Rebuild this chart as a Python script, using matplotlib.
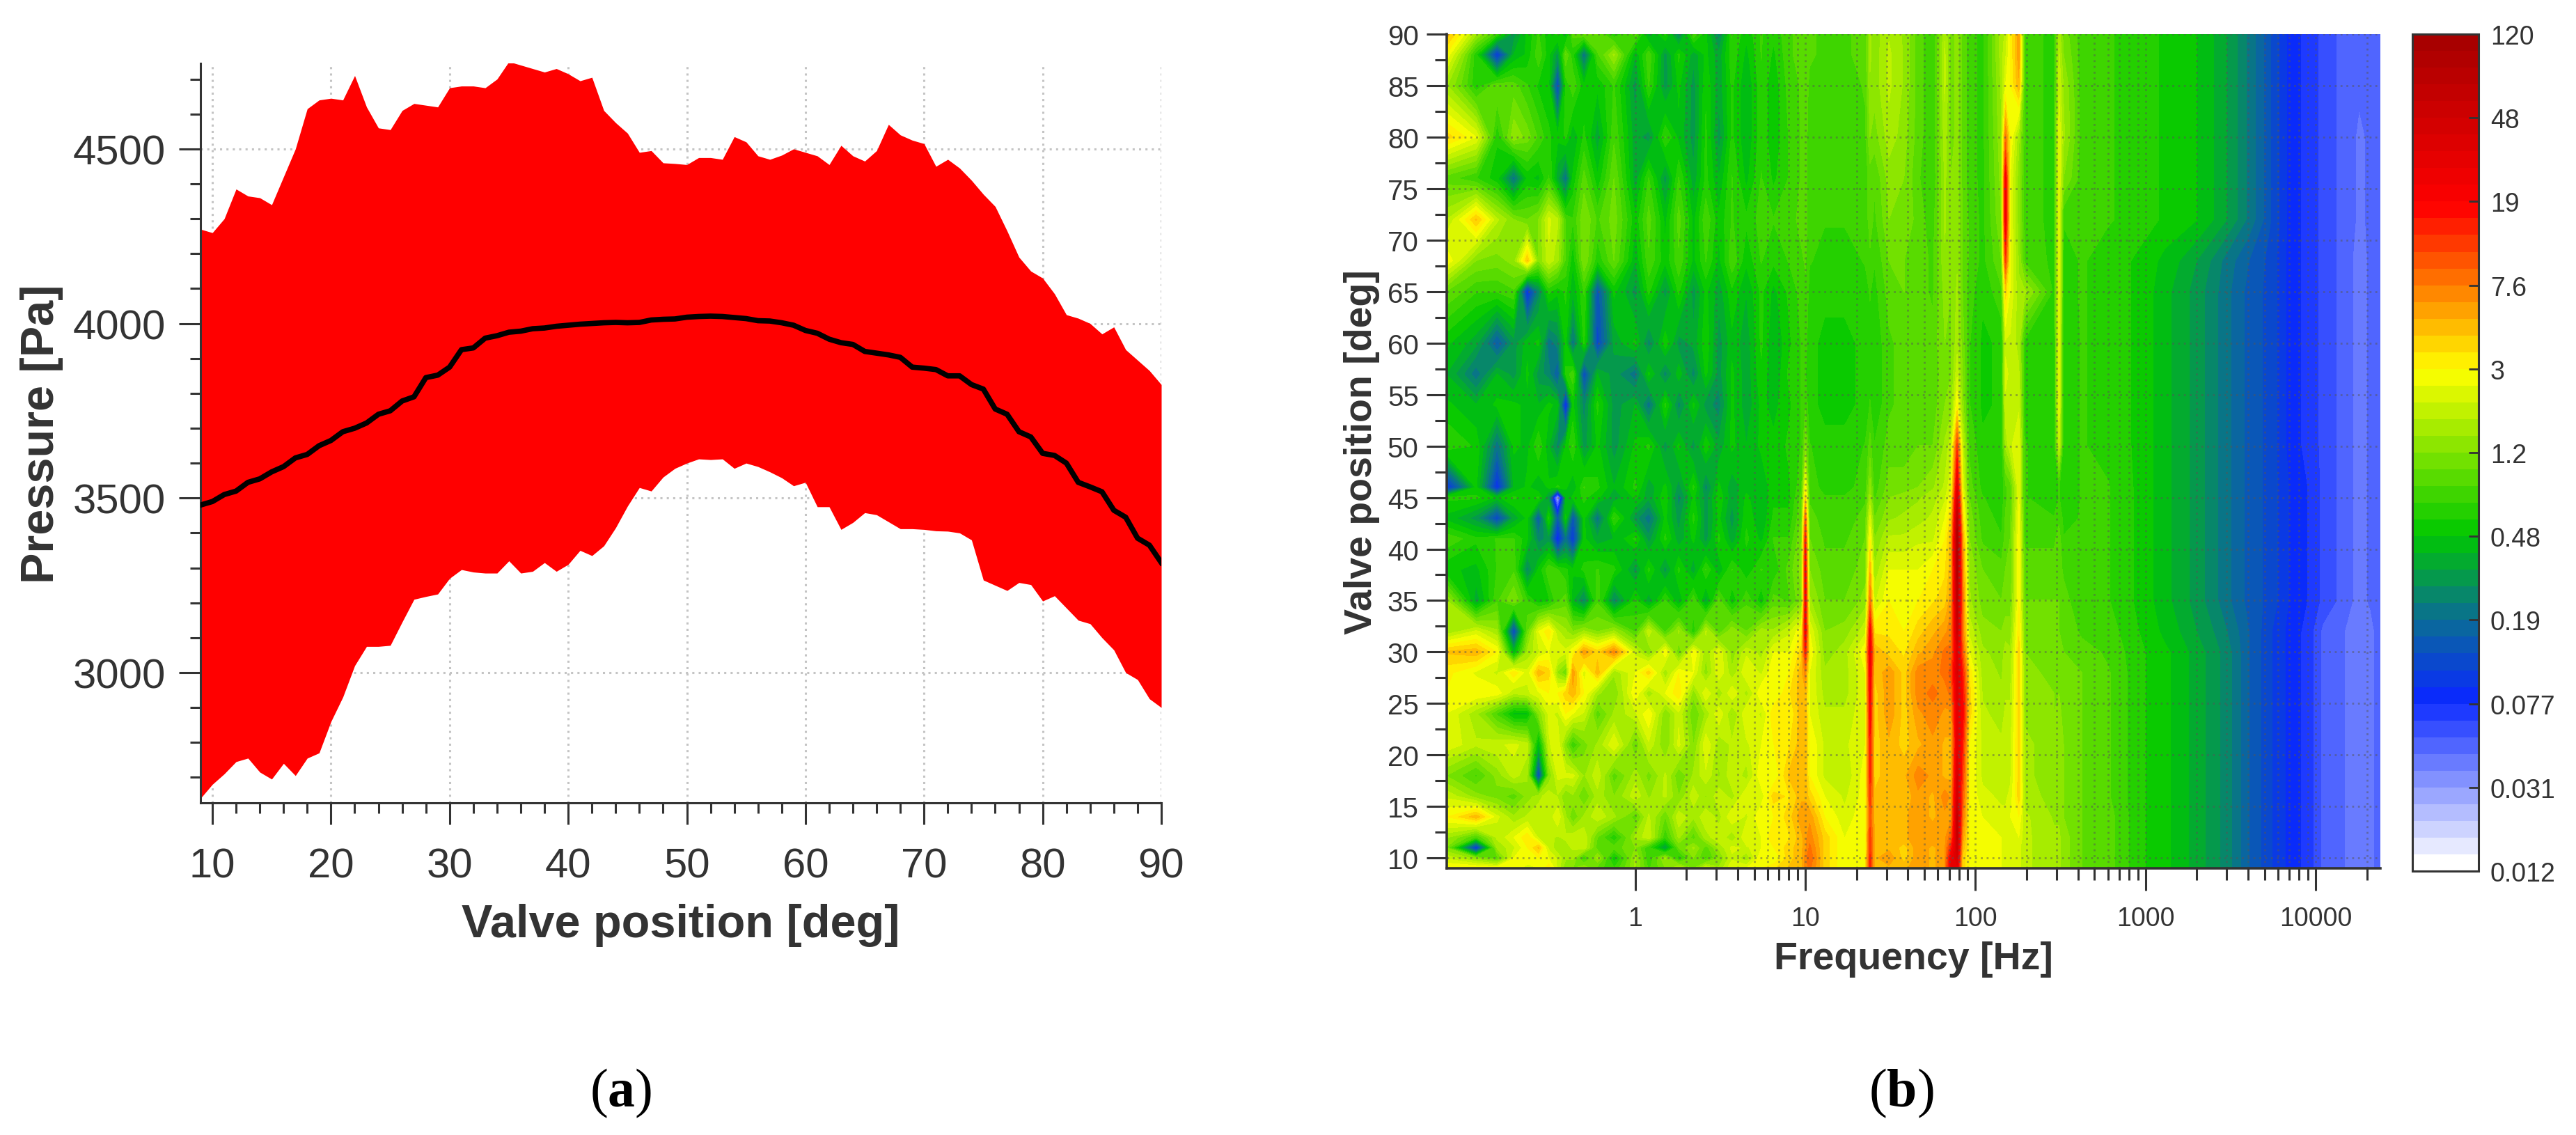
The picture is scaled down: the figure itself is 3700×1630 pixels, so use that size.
import numpy as np
import matplotlib
matplotlib.use('Agg')
from matplotlib import pyplot as plt
from matplotlib.colors import LinearSegmentedColormap

plt.rcParams['font.family'] = ['Liberation Sans', 'DejaVu Sans']
plt.rcParams['mathtext.fontset'] = 'custom'
plt.rcParams['mathtext.bf'] = 'Liberation Serif:bold'

# panel (a)
valve_deg = list(range(9, 91))
pressure_upper = [4270, 4260, 4300, 4385, 4365, 4360, 4340, 4420, 4500, 4615, 4640, 4645, 4640, 4710, 4620, 4560,
                  4555, 4610, 4630, 4625, 4620, 4675, 4680, 4680, 4675, 4700, 4750, 4740, 4730, 4720, 4730, 4715,
                  4695, 4705, 4610, 4575, 4545, 4490, 4495, 4460, 4458, 4455, 4475, 4475, 4470, 4535, 4520, 4480,
                  4470, 4482, 4500, 4490, 4480, 4455, 4510, 4480, 4465, 4495, 4570, 4540, 4525, 4515, 4450, 4470,
                  4445, 4410, 4370, 4335, 4265, 4190, 4150, 4130, 4085, 4025, 4015, 4000, 3970, 3990, 3925, 3895,
                  3865, 3825]
pressure_lower = [2640, 2680, 2710, 2745, 2755, 2715, 2695, 2740, 2705, 2755, 2770, 2860, 2930, 3020, 3075, 3075,
                  3078, 3145, 3210, 3218, 3225, 3270, 3295, 3288, 3285, 3285, 3320, 3285, 3290, 3315, 3290, 3310,
                  3350, 3335, 3363, 3415, 3477, 3530, 3520, 3560, 3585, 3600, 3612, 3610, 3612, 3585, 3600, 3590,
                  3575, 3558, 3535, 3545, 3475, 3475, 3410, 3430, 3458, 3452, 3432, 3412, 3412, 3410, 3406, 3405,
                  3400, 3380, 3265, 3250, 3235, 3258, 3252, 3205, 3220, 3185, 3150, 3140, 3100, 3065, 3000, 2980,
                  2925, 2900]
pressure_mean = [3480, 3490, 3510, 3520, 3545, 3555, 3575, 3590, 3615, 3625, 3650, 3665, 3690, 3700, 3715, 3740,
                 3750, 3778, 3790, 3845, 3852, 3875, 3925, 3930, 3958, 3965, 3975, 3978, 3985, 3987, 3992, 3995,
                 3998, 4000, 4002, 4003, 4002, 4003, 4010, 4012, 4013, 4018, 4020, 4021, 4020, 4017, 4014, 4008,
                 4007, 4002, 3995, 3980, 3972, 3955, 3945, 3940, 3920, 3915, 3910, 3903, 3875, 3872, 3868, 3850,
                 3850, 3825, 3812, 3755, 3740, 3690, 3675, 3628, 3622, 3600, 3545, 3532, 3518, 3465, 3445, 3385,
                 3365, 3315]

# panel (b)
spectrum_freq = [.077, .116, .154, .193, .232, .27, .31, .35, .39, .43, .5, .6,
                 .75, 1, 1.2, 1.5, 1.8, 2.2, 2.6, 3.1, 3.7, 4.5, 5.5, 6.5, 8, 9.5,
                 10, 10.6, 13, 17,
                 22.5, 24, 25.5, 31, 38, 46,
                 56, 66, 72, 78, 84, 92, 110,
                 142, 150, 160, 180, 195, 290, 310, 330,
                 420, 600, 900, 1300, 2000, 3000,
                 4000, 5500, 7000, 9000, 11000, 14000, 18000, 21000, 24000]
spectrum_deg = [9, 10, 11, 12, 14, 16, 18, 21, 24, 26, 28, 30, 32, 35, 38, 41, 43, 45, 46, 50, 54, 57, 60, 65, 68,
                72, 76, 80, 85, 88, 90]
spectrum_amp = [
    [3.2, 3.2, 3, 3, 2.2, 2.5, 3.5, 2, 1.2, 1.2, 1.5, .9,
     .7, 1.5, .8, 1.2, 2, 1.2, 2.2, 1.5, 2.5, 2.5, 3, 3.5, 4.5, 5,
     7, 8, 4, 2.5,
     3, 14, 5, 5, 5, 6,
     5, 6, 30, 30, 4, 3, 3,
     2.5, 2.5, 2.5, 2.2, 1.8, 1.5, 1.5, 1.3,
     1, .9, .6, .5, .36, .25,
     .16, .11, .085, .07, .05, .045, .038, .04, .05],
    [2, 1.3, .9, 2.5, 3, 3, 2.5, 2, 1.5, 1.5, .7, 1.5,
     .5, 1.5, .7, 1.5, .6, 1.2, .8, 1.2, 2, 1.5, 3, 2.5, 4, 5,
     7, 9, 4, 2.5,
     3, 14, 5, 6, 4, 6,
     5, 6, 25, 40, 4, 3, 3,
     2.5, 2.5, 2.5, 2.2, 1.8, 1.5, 1.5, 1.3,
     1, .9, .6, .5, .36, .25,
     .16, .11, .085, .07, .05, .045, .038, .04, .05],
    [1.2, .09, 1.5, 2, 3, 4.5, 2, 1.5, 1.6, 1.8, 2, .9,
     .9, 1.2, .7, .3, 1, 1.5, .9, 1.5, 2.2, 2, 2.5, 3, 4, 5,
     6, 8, 4, 2.5,
     2.8, 12, 5, 5, 4, 6,
     5, 6, 15, 50, 5, 3, 3,
     2.5, 2.5, 2.5, 2.2, 1.8, 1.5, 1.5, 1.3,
     1, .9, .6, .5, .36, .25,
     .16, .11, .085, .07, .05, .045, .038, .04, .05],
    [1.5, .8, 1.8, 2.5, 3.5, 2, 1.8, 1.7, 1.8, 2, 2, 1,
     .6, 1.5, 2, .7, 1.5, .9, 1.6, 2, 1.5, 2.5, 2.5, 3.5, 3.5, 5,
     6, 7, 4, 2.5,
     3, 12, 5, 5, 5, 6,
     6, 6, 9, 60, 6, 3, 3,
     2.5, 2.5, 2.5, 2.5, 1.8, 1.5, 1.5, 1.3,
     1, .9, .6, .5, .36, .25,
     .16, .11, .085, .07, .05, .045, .038, .04, .05],
    [3, 5, 2.2, 1.5, 1.8, 2, 1.8, 2.5, 1.5, 1, 1.5, 2,
     1.5, .9, 1.8, 1, 2, 1.5, 2, 1.6, 2.5, 2, 3, 3, 4, 6,
     6, 6, 3, 2.2,
     3, 10, 5, 5, 5, 6,
     5, 6, 6, 60, 8, 3, 2.5,
     2.2, 2.2, 2.5, 3, 1.8, 1.4, 1.4, 1.2,
     1, .9, .6, .5, .36, .25,
     .16, .11, .085, .07, .05, .045, .038, .04, .05],
    [2, 1.3, 1.1, .9, 1.3, 1.6, 2, 1.7, 1.2, 1.4, 1, 1.6,
     1.2, 2, 1.4, 1.8, 1.2, 2, 1.4, 2, 1.6, 2.5, 2.2, 4, 3.5, 5,
     5, 4, 2.5, 2,
     2.8, 12, 4.5, 5, 4.5, 6,
     5, 7, 6, 45, 10, 3, 2.2,
     2, 2, 2.2, 4, 1.6, 1.3, 1.4, 1.2,
     1, .85, .6, .5, .36, .25,
     .16, .11, .085, .07, .05, .045, .038, .04, .05],
    [1.2, .8, 1.3, 1.9, 1.5, .12, 1.2, 2.2, 2.2, 2.2, 1.4, 2,
     .9, 1.6, 1.1, 1.8, 1, 1.5, 2, 1.4, 2, 1.6, 3, 2.5, 4.5, 5,
     5, 3, 2, 1.8,
     2.8, 14, 4, 5, 5, 7,
     6, 5, 5, 40, 12, 3, 2,
     1.8, 2, 2, 4, 1.5, 1.3, 1.3, 1.2,
     1, .85, .6, .5, .36, .25,
     .16, .11, .085, .07, .05, .045, .038, .04, .05],
    [2.4, 1.8, 2, 2.2, 1.9, .4, 2, 2.5, 1.2, .7, 1.1, 1.5,
     2.5, 1, 2, 1.2, 2.2, 1.2, 2.5, 1.5, 1.8, 2, 2.5, 3, 3.5, 5,
     5, 3, 2, 2,
     2.5, 15, 4, 5, 4, 5,
     6, 5, 5, 30, 15, 3, 2,
     1.8, 2, 2, 4, 1.5, 1.3, 1.3, 1.2,
     1, .85, .6, .5, .36, .25,
     .16, .11, .085, .07, .05, .045, .038, .04, .05],
    [2.5, 1.5, .8, .45, .45, 1.2, 2.2, 2, 3, 2.5, 2, .9,
     1.5, 2, 3, 1.2, 2, 1, 1.5, 2.5, 1.4, 2.5, 2, 3.5, 3, 5,
     5, 2.5, 1.8, 1.8,
     2.5, 18, 4, 6, 4, 6,
     7, 6, 6, 30, 20, 4, 1.8,
     1.6, 1.8, 1.8, 4, 1.4, 1.2, 1.3, 1.1,
     1, .85, .6, .5, .36, .25,
     .16, .11, .085, .07, .05, .045, .038, .04, .05],
    [3, 3, 2.8, 1.8, 2, 2.4, 3, 3, 4, 5, 3, 1.5,
     1.2, 3, 1.5, 2.5, 3.5, 1.3, 2.5, 1.5, 2.5, 1.6, 3, 2.5, 3.5, 5,
     5, 2.5, 1.6, 1.6,
     2.5, 20, 4, 6, 4, 7,
     8, 7, 8, 35, 18, 4, 1.7,
     1.5, 1.7, 1.7, 4, 1.3, 1.2, 1.2, 1.1,
     1, .85, .6, .5, .36, .25,
     .16, .11, .085, .07, .05, .045, .038, .04, .05],
    [3.2, 2.4, 2, 3.5, 2.2, 5, 4, 1.4, 1, 6, 2.2, 5,
     1.5, 2.5, 4, 1.5, 3, 2.5, 1.3, 2.5, 1.5, 2.5, 2, 3, 3, 5,
     7, 2.5, 1.5, 1.6,
     2.5, 22, 4.5, 6, 4, 7,
     7, 8, 10, 40, 15, 3.5, 1.6,
     1.4, 1.6, 1.6, 4, 1.3, 1.1, 1.2, 1,
     1, .85, .6, .5, .36, .25,
     .16, .11, .085, .07, .05, .045, .038, .04, .05],
    [4.5, 5, 3, .4, 1.5, 2, 2.5, 2.5, 2.2, 3, 6, 4,
     7, 2, 1.2, 3, 1, 3, 1.5, 2.5, 1.3, 2, 1.6, 2.5, 2.5, 4,
     15, 3, 1.3, 1.6,
     3, 25, 5, 4, 3.5, 5,
     6, 8, 8, 35, 10, 2.5, 1.5,
     1.3, 1.6, 1.5, 4, 1.2, 1.1, 1.1, 1,
     .9, .8, .6, .5, .36, .25,
     .16, .11, .085, .07, .05, .045, .038, .04, .05],
    [1.5, 2.2, 1.5, .12, 1, 2.5, 3.5, 1.8, 1.5, 1.2, 1.5, 1.2,
     1.5, .8, 2, .8, 1.5, .6, 1.8, .9, 1.4, 1, 1.6, 1.5, 2, 3,
     22, 2.5, 1.2, 1.3,
     2, 20, 3.5, 3.5, 3, 4,
     5, 6, 7, 50, 8, 2, 1.3,
     1.2, 1.3, 1.3, 3.5, 1.1, 1, 1, .95,
     .8, .75, .58, .45, .33, .23,
     .16, .11, .085, .07, .05, .045, .038, .04, .05],
    [1.5, .35, .8, 1.2, .7, .5, .55, .8, .9, .4, .25, .8,
     .25, .6, .35, .7, .4, .8, .35, .9, .5, .8, .5, .9, .8, 1.2,
     22, 1.5, 1, 1,
     1.3, 8, 2, 3, 3, 3,
     3.5, 4, 6, 70, 8, 1.5, 1.1,
     1, 1.1, 1.1, 3, 1, 1, 1, .9,
     .7, .7, .55, .42, .3, .2,
     .15, .12, .09, .075, .06, .05, .04, .045, .05],
    [.5, .45, .7, .8, .25, .5, .8, .7, .6, .5, .6, .7,
     .6, .3, .6, .3, .6, .35, .7, .4, .7, .5, .7, .6, .9, 1.3,
     20, 1.2, .9, .9,
     1.1, 5, 1.5, 2.5, 2.5, 2.5,
     3, 3.5, 5, 90, 7, 1.4, 1,
     .9, 1, 1, 3, .9, .9, .9, .8,
     .7, .7, .55, .42, .3, .2,
     .15, .12, .09, .075, .06, .05, .04, .045, .05],
    [.8, .6, .7, .7, .5, .25, .3, .08, .2, .1, .5, .35,
     .4, .6, .3, .6, .35, .5, .3, .6, .35, .6, .45, .7, .7, 1.2,
     15, 1, .8, .8,
     1, 3, 1.2, 1.8, 1.8, 2,
     2, 3, 5, 100, 6, 1.2, .8,
     .7, .9, 1, 3, .8, .8, .9, .7,
     .7, .7, .55, .42, .3, .2,
     .15, .12, .09, .075, .06, .05, .04, .045, .05],
    [.45, .3, .12, .35, .5, .15, .6, .15, .5, .14, .5, .2,
     .7, .3, .2, .5, .3, .6, .3, .5, .3, .55, .4, .6, .6, 1,
     9, .9, .75, .75,
     .9, 2.2, 1, 1.4, 1.5, 1.6,
     1.8, 2.5, 4, 70, 4, 1.1, .75,
     .65, .85, .95, 2.8, .75, .7, .8, .65,
     .7, .7, .55, .42, .3, .2,
     .15, .12, .09, .075, .06, .05, .04, .045, .05],
    [.6, .6, .45, .6, .5, .6, .3, .02, .4, .5, .6, .5,
     .35, .5, .35, .55, .25, .5, .3, .55, .35, .5, .4, .55, .55, .9,
     4, .8, .7, .7,
     .8, 1.5, .8, 1.2, 1.3, 1.4,
     1.6, 2, 3, 40, 3, 1, .7,
     .6, .8, .9, 2.5, .7, .6, .7, .6,
     .7, .7, .55, .42, .3, .2,
     .15, .12, .09, .075, .06, .05, .04, .045, .05],
    [.09, .5, .09, .4, .5, .4, .5, .6, .5, .4, .7, .6,
     .4, .6, .35, .5, .3, .6, .25, .5, .35, .45, .4, .55, .55, .8,
     3, .75, .65, .65,
     .75, 1.3, .75, 1.1, 1.1, 1.2,
     1.4, 1.8, 2.5, 30, 2.5, .9, .65,
     .6, .8, .9, 2.5, .7, .6, .7, .6,
     .7, .7, .55, .42, .3, .2,
     .15, .12, .09, .075, .06, .05, .04, .045, .05],
    [.7, .55, .2, .5, .45, .7, .4, .25, .5, .7, .3, .5,
     .3, .5, .6, .3, .5, .3, .55, .35, .5, .4, .5, .5, .6, .7,
     1.2, .7, .6, .6,
     .7, .9, .7, .9, .9, 1,
     1, 1.5, 2, 12, 2, .8, .6,
     .6, 1.5, 2, 2.5, .7, .6, 2, .6,
     .7, .65, .55, .42, .3, .2,
     .15, .12, .085, .07, .06, .05, .04, .045, .05],
    [.5, .4, .5, .5, .45, .4, .5, .45, .08, .5, .25, .6,
     .3, .4, .2, .6, .25, .5, .3, .25, .5, .35, .5, .45, .55, .7,
     .8, .6, .55, .55,
     .6, .7, .6, .8, .9, .9,
     .9, 1.2, 1.3, 3, 1.3, .7, .55,
     .6, 2, 2, 2, .65, .6, 2.5, .6,
     .7, .65, .55, .42, .3, .2,
     .15, .12, .085, .07, .06, .05, .04, .045, .05],
    [.4, .2, .4, .3, .5, .3, .25, .15, .6, .8, .13, .4,
     .3, .2, .5, .25, .45, .25, .5, .3, .5, .35, .55, .4, .6, .7,
     .7, .6, .55, .55,
     .6, .65, .6, .8, .9, .9,
     .9, 1.1, 1.2, 2, 1.2, .7, .55,
     .6, 2.2, 2, 1.8, .65, .6, 2.5, .6,
     .7, .65, .55, .42, .3, .2,
     .15, .12, .085, .07, .06, .05, .04, .045, .05],
    [.5, .35, .15, .3, .45, .5, .2, .25, .5, .2, .6, .12,
     .35, .5, .25, .55, .3, .35, .55, .3, .45, .35, .6, .4, .55, .7,
     .75, .6, .55, .55,
     .6, .65, .6, .8, .9, .9,
     .9, 1.2, 1.2, 1.6, 1.1, .7, .55,
     .6, 2, 2, 1.6, .65, .6, 2.5, .6,
     .7, .65, .55, .42, .3, .2,
     .15, .12, .085, .07, .06, .05, .04, .045, .05],
    [1, .7, .7, .8, .09, .25, .6, .5, .6, .4, .7, .14,
     .5, .3, .6, .3, .6, .3, .5, .35, .55, .4, .6, .45, .6, .75,
     .8, .65, .6, .6,
     .65, .7, .65, .9, 1, .9,
     .8, 1.3, 1.2, 1.5, 1, .75, .6,
     .8, 4, 2.5, 1.5, 1.5, .65, 2.5, .65,
     .7, .65, .55, .42, .3, .2,
     .15, .12, .085, .07, .06, .05, .04, .045, .05],
    [3, 1.2, 1.1, 1.3, 4.5, 1.2, 2, 1.5, .8, .5, 1.2, .6,
     1, .4, .8, .5, .8, .45, .7, .45, .8, .5, .7, .6, .7, .8,
     .85, .7, .65, .65,
     .7, .8, .7, 1, 1, .9,
     .8, 1.4, 1.2, 1.4, 1, .8, .65,
     1, 12, 2.5, 1.4, .8, .65, 2.5, .65,
     .7, .65, .55, .45, .33, .21,
     .16, .12, .085, .07, .06, .05, .04, .045, .05],
    [1.7, 4.5, 1.8, 1.2, 1, 1.2, 2.2, 1.8, .8, .7, 1.2, .8,
     1.1, .5, .9, .45, .9, .45, .8, .5, .7, .6, .75, .7, .75, .9,
     .9, .75, .7, .7,
     .75, .9, .8, 1.2, 1.2, .9,
     .75, 1.5, 1.2, 1.4, 1, .8, .65,
     1.2, 25, 2.5, 1.3, .75, .65, 2.5, .7,
     .75, .7, .65, .55, .48, .33,
     .22, .13, .085, .07, .06, .05, .042, .045, .05],
    [.9, .7, .5, .2, .5, .45, .7, .35, .2, .5, .9, .5,
     1, .35, .7, .3, .7, .35, .6, .4, .7, .45, .7, .55, .7, .85,
     .9, .75, .7, .7,
     .75, .9, .85, 1.3, 1.2, .85,
     .7, 1.5, 1.2, 1.3, .95, .75, .65,
     1.3, 22, 2.5, 1.3, .75, .65, 2.5, 1.2,
     .75, .7, .65, .55, .48, .33,
     .22, .13, .085, .07, .06, .05, .042, .045, .05],
    [4, 2.5, .6, 1.4, 1.1, .8, .6, .5, .6, .4, .6, .35,
     .8, .35, .3, .7, .45, .3, .6, .3, .6, .4, .65, .5, .7, .85,
     .9, .75, .7, .7,
     .8, 1.2, 1.1, 1.6, 1.3, .9,
     .7, 1.6, 1.1, 1.3, .95, .75, .65,
     1.4, 8, 3, 1.5, .75, .65, 2.5, 1.5,
     .75, .7, .65, .55, .48, .33,
     .22, .13, .085, .07, .06, .05, .042, .045, .05],
    [1.5, .6, 1, .9, .7, .55, .5, .12, .6, .8, .5, .5,
     .7, .3, .7, .3, .5, .3, .55, .35, .6, .4, .65, .5, .75, .85,
     .9, .8, .75, .75,
     .85, 1.4, 1.3, 1.8, 1.4, .9,
     .7, 1.8, 1.1, 1.3, .95, .75, .65,
     1.5, 2.5, 3, 5, .75, .65, 2, 1.4,
     .75, .7, .65, .55, .48, .33,
     .22, .13, .085, .07, .06, .05, .045, .048, .05],
    [3, .6, .1, .4, .5, .8, .5, .3, 1, .6, .2, .8,
     1.5, .4, .8, .3, .6, .35, .5, .35, .65, .45, .7, .55, .8, .9,
     .95, .85, .8, .8,
     .9, 1.5, 1.3, 1.8, 1.4, .9,
     .7, 1.8, 1.1, 1.3, .95, .75, .65,
     1.6, 2, 3, 6, .75, .65, 1.8, 1.2,
     .75, .7, .65, .55, .48, .33,
     .22, .13, .085, .07, .06, .05, .045, .048, .05],
    [5, 1.5, .7, .3, .5, .7, .5, .6, .4, .9, 1, 1,
     .6, .9, .35, .6, .25, .8, .5, .25, .7, .5, .7, .6, .8, .9,
     .95, .85, .8, .8,
     .9, 1.5, 1.3, 1.7, 1.4, .9,
     .7, 1.7, 1.1, 1.3, .95, .75, .65,
     1.6, 1.8, 3, 6, .75, .65, 1.6, 1.1,
     .75, .7, .65, .55, .48, .33,
     .22, .13, .085, .07, .06, .05, .045, .048, .05],
]
level_edges = np.geomspace(0.012, 120, 51)
bar_labels = ['0.012', '0.031', '0.077', '0.19', '0.48', '1.2', '3', '7.6', '19', '48', '120']

text_color = '#333333'
W, H = 3700, 1631


def axes_box(left, top, right, bottom):
    return [left / W, 1 - bottom / H, (right - left) / W, (bottom - top) / H]


fig = plt.figure(figsize=(37, 16.31), dpi=100)

# left panel
ax = fig.add_axes(axes_box(288, 92, 1668, 1154))
ax.fill_between(valve_deg, pressure_lower, pressure_upper, color='#ff0000', lw=0, zorder=2)
ax.plot(valve_deg, pressure_mean, color='black', lw=5.5, zorder=3)
ax.set_xlim(9, 90)
ax.set_ylim(2627, 4745)
ax.set_xticks(range(10, 91, 10))
ax.set_xticks(range(10, 91, 2), minor=True)
ax.set_yticks([3000, 3500, 4000, 4500])
ax.set_yticks(range(2700, 4701, 100), minor=True)
ax.grid(True, which='major', color='#c4c4c4', ls=(0, (1, 2)), lw=2.2, zorder=0)
ax.set_axisbelow(True)
for side in ['top', 'right']:
    ax.spines[side].set_visible(False)
for side in ['left', 'bottom']:
    ax.spines[side].set_linewidth(2.2)
    ax.spines[side].set_color(text_color)
ax.tick_params(axis='x', which='major', length=22, width=2.2, color=text_color, labelcolor=text_color,
               labelsize=43, pad=24)
ax.tick_params(axis='y', which='major', length=22, width=2.2, color=text_color, labelcolor=text_color,
               labelsize=43, pad=14)
ax.tick_params(which='minor', length=11, width=2.2, color=text_color)
ax.set_xlabel('Valve position [deg]', fontsize=48, fontweight='bold', color=text_color, labelpad=18)
ax.set_ylabel('Pressure [Pa]', fontsize=48, fontweight='bold', color=text_color, labelpad=10)

# right panel
cmap = LinearSegmentedColormap.from_list(
    'spectrum', [(0.0, '#ffffff'), (0.2, '#0a28ff'), (0.3, '#0a7090'), (0.4, '#00c800'), (0.6, '#ffff00'),
                 (0.7, '#ff8000'), (0.8, '#ff0000'), (1.0, '#a80000')], N=50)

log_edges = np.log10(level_edges)
ax2 = fig.add_axes(axes_box(2078, 50, 3419, 1248))
cf = ax2.contourf(spectrum_freq, spectrum_deg, np.clip(np.log10(spectrum_amp), log_edges[0], log_edges[-1]),
                  levels=log_edges, cmap=cmap)
ax2.set_xscale('log')
ax2.set_xlim(0.078, 24000)
ax2.set_ylim(9, 90)
major_freq = [1, 10, 100, 1000, 10000]
minor_freq = [m * d for d in major_freq for m in range(2, 10) if m * d <= 24000]
ax2.set_xticks(major_freq)
ax2.set_xticklabels(['1', '10', '100', '1000', '10000'])
ax2.set_xticks(minor_freq, minor=True)
ax2.set_xticklabels([], minor=True)
ax2.set_yticks(range(10, 91, 5))
ax2.set_yticks(np.arange(12.5, 90, 5), minor=True)
ax2.grid(True, which='major', color='#555555', ls=(0, (1, 2)), lw=2, alpha=0.5)
ax2.grid(True, which='minor', axis='x', color='#555555', ls=(0, (1, 2)), lw=2, alpha=0.5)
for side in ['top', 'right']:
    ax2.spines[side].set_visible(False)
for side in ['left', 'bottom']:
    ax2.spines[side].set_linewidth(2.6)
    ax2.spines[side].set_color(text_color)
ax2.tick_params(axis='x', which='major', length=23, width=2.2, color=text_color, labelcolor=text_color,
                labelsize=27, pad=16)
ax2.tick_params(axis='y', which='major', length=21, width=2.2, color=text_color, labelcolor=text_color,
                labelsize=29, pad=8)
ax2.tick_params(axis='x', which='minor', length=12, width=2.2, color=text_color)
ax2.tick_params(axis='y', which='minor', length=12, width=2.2, color=text_color)
ax2.set_xlabel('Frequency [Hz]', fontsize=40, fontweight='bold', color=text_color, labelpad=10)
ax2.set_ylabel('Valve position [deg]', fontsize=40, fontweight='bold', color=text_color, labelpad=8)

cax = fig.add_axes(axes_box(3465, 50, 3560, 1252))
cb = fig.colorbar(cf, cax=cax)
cb.set_ticks(log_edges[::5])
cb.set_ticklabels(bar_labels)
cb.ax.tick_params(direction='in', length=10, width=2, color=text_color, labelcolor=text_color, labelsize=27, pad=12)
cb.ax.minorticks_off()
cb.outline.set_linewidth(2.2)
cb.outline.set_edgecolor(text_color)

fig.text(892 / W, 1 - 1570 / H, r'($\mathbf{a}$)', family='Liberation Serif', fontsize=56, ha='center', va='center',
         color='black')
fig.text(2731 / W, 1 - 1570 / H, r'($\mathbf{b}$)', family='Liberation Serif', fontsize=56, ha='center', va='center',
         color='black')

fig.savefig('out.png', dpi=100)
